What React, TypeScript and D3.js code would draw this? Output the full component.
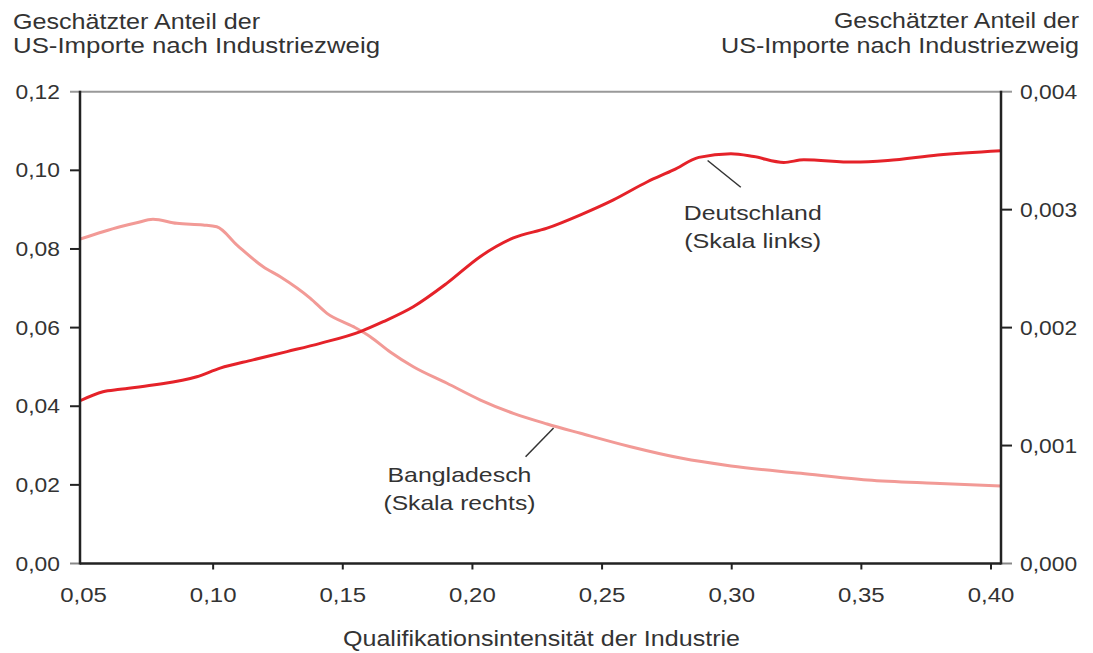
import React from "react";
import * as d3 from "d3";

// ---- data ----
const deutschlandX = [0.0487, 0.0575, 0.0641, 0.0768, 0.0937, 0.1027, 0.1154, 0.1285, 0.1413, 0.1568, 0.1656, 0.1772, 0.1902, 0.2031, 0.2158, 0.2288, 0.2417, 0.2544, 0.2675, 0.2776, 0.2873, 0.2997, 0.3085, 0.3201, 0.3278, 0.3471, 0.3602, 0.3795, 0.4040];
const deutschlandY = [0.0414, 0.0437, 0.0443, 0.0454, 0.0475, 0.0497, 0.0518, 0.0539, 0.0560, 0.0590, 0.0615, 0.0653, 0.0713, 0.0781, 0.0828, 0.0853, 0.0887, 0.0925, 0.0971, 0.1001, 0.1033, 0.1042, 0.1035, 0.1020, 0.1027, 0.1021, 0.1025, 0.1039, 0.1050];

const bangladeschX = [0.0487, 0.0575, 0.0641, 0.0705, 0.0768, 0.0860, 0.0961, 0.1014, 0.1092, 0.1193, 0.1259, 0.1375, 0.1439, 0.1541, 0.1606, 0.1683, 0.1772, 0.1902, 0.2031, 0.2158, 0.2288, 0.2417, 0.2610, 0.2803, 0.2997, 0.3267, 0.3524, 0.3780, 0.4040];
const bangladeschY = [0.00275, 0.002813, 0.002855, 0.002889, 0.002918, 0.002884, 0.00287, 0.002855, 0.0027, 0.002516, 0.002431, 0.002248, 0.002121, 0.002008, 0.001923, 0.001793, 0.001668, 0.001528, 0.001386, 0.001273, 0.001183, 0.001104, 0.00099, 0.000894, 0.000827, 0.000765, 0.000708, 0.00068, 0.000657];

const xTicks = [0.05, 0.1, 0.15, 0.2, 0.25, 0.3, 0.35, 0.4];
const leftTicks = [0, 0.02, 0.04, 0.06, 0.08, 0.1, 0.12];
const rightTicks = [0, 0.001, 0.002, 0.003, 0.004];

const titleLines = ["Geschätzter Anteil der", "US-Importe nach Industriezweig"];
const xTitle = "Qualifikationsintensität der Industrie";

// annotation: leader line from (x1,y1) to (x2,y2), text centred at tx, baselines ty1/ty2
const deAnno = { x1: 0.2907, y1: 0.1025, x2: 0.3035, y2: 0.0957, tx: 0.3081, ty1: 0.0874, ty2: 0.0803, lines: ["Deutschland", "(Skala links)"] };
const bdAnno = { x1: 0.2313, y1: 0.001149, x2: 0.2205, y2: 0.000905, tx: 0.1950, ty1: 0.000693, ty2: 0.000454, lines: ["Bangladesch", "(Skala rechts)"] };

const fmt = (v: number, d: number) => v.toFixed(d).replace(".", ",");

const FONT = "'Liberation Sans', Arial, Helvetica, sans-serif";
const TEXT = "#333";

export default function App() {
  const left = 80, right = 1001, top = 91.7, bottom = 563.5;
  const x = d3.scaleLinear().domain([0.05, 0.4]).range([83.5, 991]);
  const yL = d3.scaleLinear().domain([0, 0.12]).range([bottom, top]);
  const yR = d3.scaleLinear().domain([0, 0.004]).range([bottom, top]);

  const deData = deutschlandX.map((v, i) => [v, deutschlandY[i]] as [number, number]);
  const bdData = bangladeschX.map((v, i) => [v, bangladeschY[i]] as [number, number]);

  const lineL = d3.line<[number, number]>().x(d => x(d[0])).y(d => yL(d[1])).curve(d3.curveMonotoneX);
  const lineR = d3.line<[number, number]>().x(d => x(d[0])).y(d => yR(d[1])).curve(d3.curveMonotoneX);

  const tickLabel = (tx: number, ty: number, s: string, anchor: string, fs: number) => (
    <g transform={`translate(${tx},${ty}) scale(1.17,1)`} key={s + tx + ty}>
      <text textAnchor={anchor} fontSize={fs} fill={TEXT} fontFamily={FONT}>{s}</text>
    </g>
  );

  return (
    <svg width={1093} height={653} style={{ position: "absolute", left: 0, top: 0, background: "#fff" }}>
      <defs>
        <clipPath id="plot"><rect x={left} y={top - 5} width={right - left} height={bottom - top + 5} /></clipPath>
      </defs>

      {/* titles */}
      <text x={13} y={28.5} fontSize={22} fill={TEXT} fontFamily={FONT} textLength={247} lengthAdjust="spacingAndGlyphs">{titleLines[0]}</text>
      <text x={13} y={53} fontSize={22} fill={TEXT} fontFamily={FONT} textLength={367} lengthAdjust="spacingAndGlyphs">{titleLines[1]}</text>
      <text x={1079 - 245} y={28} fontSize={22} fill={TEXT} fontFamily={FONT} textLength={245} lengthAdjust="spacingAndGlyphs">{titleLines[0]}</text>
      <text x={1079 - 358} y={53} fontSize={22} fill={TEXT} fontFamily={FONT} textLength={358} lengthAdjust="spacingAndGlyphs">{titleLines[1]}</text>

      {/* frame */}
      <line x1={70} x2={right} y1={top} y2={top} stroke="#999" strokeWidth={2} />
      <line x1={70} x2={left} y1={bottom} y2={bottom} stroke="#888" strokeWidth={2} />
      <line x1={right} x2={1012} y1={top} y2={top} stroke="#999" strokeWidth={2} />
      <line x1={right} x2={1012} y1={bottom} y2={bottom} stroke="#888" strokeWidth={2} />

      {/* left ticks */}
      {leftTicks.map(t => (
        <g key={"l" + t}>
          {t > 0 && t < 0.12 && <line x1={70} x2={left} y1={yL(t)} y2={yL(t)} stroke="#222" strokeWidth={2} />}
          {tickLabel(60, yL(t) + 7, fmt(t, 2), "end", 19.5)}
        </g>
      ))}
      {/* right ticks */}
      {rightTicks.map(t => (
        <g key={"r" + t}>
          {t > 0 && t < 0.004 && <line x1={right} x2={1012} y1={yR(t)} y2={yR(t)} stroke="#222" strokeWidth={2} />}
          {tickLabel(1020, yR(t) + 7.5, fmt(t, 3), "start", 19.5)}
        </g>
      ))}
      {/* x ticks */}
      {xTicks.map(t => (
        <g key={"x" + t}>
          {x(t) > left + 5 && <line x1={x(t)} x2={x(t)} y1={bottom} y2={bottom + 6} stroke="#222" strokeWidth={2} />}
          {tickLabel(x(t), 601.5, fmt(t, 2), "middle", 20.5)}
        </g>
      ))}

      {/* series */}
      <g clipPath="url(#plot)">
        <path d={lineR(bdData) || ""} fill="none" stroke="#f29a96" strokeWidth={3} strokeLinejoin="round" />
        <path d={lineL(deData) || ""} fill="none" stroke="#e52229" strokeWidth={3} strokeLinejoin="round" />
      </g>

      {/* axes */}
      <line x1={left} x2={left} y1={top - 1} y2={bottom + 1} stroke="#222" strokeWidth={2.5} />
      <line x1={left} x2={right} y1={bottom} y2={bottom} stroke="#222" strokeWidth={2.5} />
      <line x1={right} x2={right} y1={top - 1} y2={bottom + 1} stroke="#222" strokeWidth={2.5} />

      {/* annotations */}
      <line x1={x(deAnno.x1)} y1={yL(deAnno.y1)} x2={x(deAnno.x2)} y2={yL(deAnno.y2)} stroke="#333" strokeWidth={1.5} />
      <text x={x(deAnno.tx)} y={yL(deAnno.ty1)} textAnchor="middle" fontSize={21} fill={TEXT} fontFamily={FONT} textLength={138} lengthAdjust="spacingAndGlyphs">{deAnno.lines[0]}</text>
      <text x={x(deAnno.tx)} y={yL(deAnno.ty2)} textAnchor="middle" fontSize={21} fill={TEXT} fontFamily={FONT} textLength={137} lengthAdjust="spacingAndGlyphs">{deAnno.lines[1]}</text>

      <line x1={x(bdAnno.x1)} y1={yR(bdAnno.y1)} x2={x(bdAnno.x2)} y2={yR(bdAnno.y2)} stroke="#333" strokeWidth={1.5} />
      <text x={x(bdAnno.tx)} y={yR(bdAnno.ty1)} textAnchor="middle" fontSize={21} fill={TEXT} fontFamily={FONT} textLength={144} lengthAdjust="spacingAndGlyphs">{bdAnno.lines[0]}</text>
      <text x={x(bdAnno.tx)} y={yR(bdAnno.ty2)} textAnchor="middle" fontSize={21} fill={TEXT} fontFamily={FONT} textLength={152} lengthAdjust="spacingAndGlyphs">{bdAnno.lines[1]}</text>

      {/* x title */}
      <text x={541.5} y={645.5} textAnchor="middle" fontSize={22.5} fill={TEXT} fontFamily={FONT} textLength={397} lengthAdjust="spacingAndGlyphs">{xTitle}</text>
    </svg>
  );
}
